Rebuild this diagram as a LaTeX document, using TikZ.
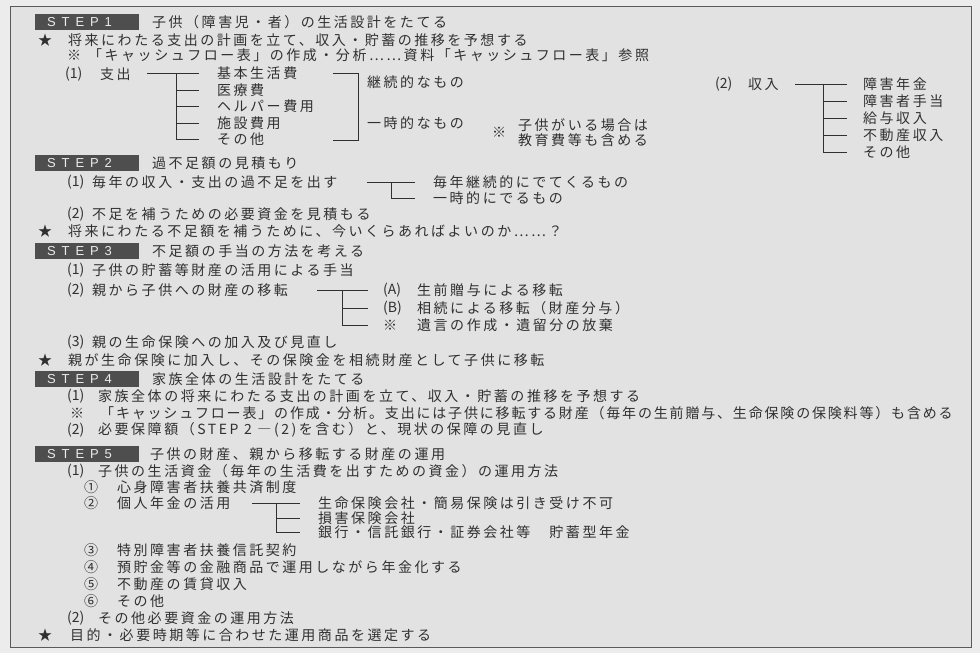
\documentclass[tikz,border=0pt]{standalone}
\usepackage{fontspec}
\setmainfont{Noto Sans CJK JP}[LetterSpace=18]
\newfontfamily\tightfont{Noto Sans CJK JP}[LetterSpace=13]
\newfontfamily\numfont{Noto Sans CJK JP}
\newfontfamily\stepfont{Liberation Sans}[LetterSpace=45]
\definecolor{ink}{RGB}{48,48,48}
\definecolor{paper}{RGB}{226,226,226}
\definecolor{margin}{RGB}{236,236,236}
\definecolor{boxgray}{RGB}{78,78,78}

\begin{document}
\begin{tikzpicture}[x=1pt, y=-1pt,
  txt/.style = {anchor=west, inner sep=0pt, text=ink, font=\fontsize{14}{14}\selectfont},
  num/.style = {txt, font=\numfont\fontsize{14}{14}\selectfont},
  stepbox/.style = {anchor=west, fill=boxgray, text=white!92!black, font=\stepfont\fontsize{13}{13}\selectfont, inner xsep=12pt, inner ysep=0pt, minimum height=16pt, text width=80pt, align=left},
  branch/.style = {draw=ink, line width=0.7pt}]
\useasboundingbox (0,0) rectangle (980,653);
\fill[margin] (0,0) rectangle (980,653);
\draw[ink!80, line width=1pt, fill=paper] (10,6) rectangle (971,647);

% STEP 1
\node[stepbox] (step1) at (35,22) {STEP1};
\node[txt] (head1) at (152,22) {子供（障害児・者）の生活設計をたてる};
\node[txt] (star1) at (38,40) {★};
\node[txt] (plan1) at (68,40) {将来にわたる支出の計画を立て、収入・貯蓄の推移を予想する};
\node[txt] (note1) at (67,55) {※};
\node[txt] (cash1) at (88,55) {「キャッシュフロー表」の作成・分析……資料「キャッシュフロー表」参照};
\node[num] (num11) at (65,74) {(1)};
\node[txt] (shishutsu) at (100,74) {支出};
\node[txt] (kihon) at (217,73) {基本生活費};
\node[txt] (iryo) at (217,90) {医療費};
\node[txt] (helper) at (217,106) {ヘルパー費用};
\node[txt] (shisetsu) at (217,123) {施設費用};
\node[txt] (sonota1) at (217,139) {その他};
\node[txt] (keizoku) at (367,82) {継続的なもの};
\node[txt] (ichiji1) at (367,123) {一時的なもの};
\node[txt] (note2) at (492,132) {※};
\node[txt] (kodomo) at (518,125) {子供がいる場合は};
\node[txt] (kyoiku) at (518,140) {教育費等も含める};
\node[num] (num12) at (715,84) {(2)};
\node[txt] (shunyu) at (748,84) {収入};
\node[txt] (nenkin) at (863,84) {障害年金};
\node[txt] (teate) at (863,101) {障害者手当};
\node[txt] (kyuyo) at (863,118) {給与収入};
\node[txt] (fudosan) at (863,135) {不動産収入};
\node[txt] (sonota2) at (863,152) {その他};

% STEP 2
\node[stepbox] (step2) at (35,163) {STEP2};
\node[txt] (head2) at (152,163) {過不足額の見積もり};
\node[num] (num21) at (67,182) {(1)};
\node[txt] (kabusoku) at (92,182) {毎年の収入・支出の過不足を出す};
\node[txt] (maitoshi) at (433,182) {毎年継続的にでてくるもの};
\node[txt] (ichiji2) at (433,198) {一時的にでるもの};
\node[num] (num22) at (67,214) {(2)};
\node[txt] (hitsuyo) at (92,214) {不足を補うための必要資金を見積もる};
\node[txt] (star2) at (38,231) {★};
\node[txt] (ikura) at (68,231) {将来にわたる不足額を補うために、今いくらあればよいのか……？};

% STEP 3
\node[stepbox] (step3) at (35,251) {STEP3};
\node[txt] (head3) at (152,251) {不足額の手当の方法を考える};
\node[num] (num31) at (67,270) {(1)};
\node[txt] (chochiku) at (92,270) {子供の貯蓄等財産の活用による手当};
\node[num] (num32) at (67,290) {(2)};
\node[txt] (iten) at (92,290) {親から子供への財産の移転};
\node[num] (markA) at (383,290) {(A)};
\node[txt] (seizen) at (417,290) {生前贈与による移転};
\node[num] (markB) at (383,308) {(B)};
\node[txt] (sozoku) at (417,308) {相続による移転（財産分与）};
\node[txt] (note3) at (383,325) {※};
\node[txt] (yuigon) at (417,325) {遺言の作成・遺留分の放棄};
\node[num] (num33) at (67,342) {(3)};
\node[txt] (hoken) at (92,342) {親の生命保険への加入及び見直し};
\node[txt] (star3) at (38,360) {★};
\node[txt] (hokenkin) at (68,360) {親が生命保険に加入し、その保険金を相続財産として子供に移転};

% STEP 4
\node[stepbox] (step4) at (35,379) {STEP4};
\node[txt] (head4) at (152,379) {家族全体の生活設計をたてる};
\node[num] (num41) at (67,396) {(1)};
\node[txt] (kazoku) at (98,396) {家族全体の将来にわたる支出の計画を立て、収入・貯蓄の推移を予想する};
\node[txt] (note4) at (70,413) {※};
\node[txt, font=\tightfont\fontsize{14}{14}\selectfont] (cash4) at (100,413) {「キャッシュフロー表」の作成・分析。支出には子供に移転する財産（毎年の生前贈与、生命保険の保険料等）も含める};
\node[num] (num42) at (67,430) {(2)};
\node[txt] (hosho) at (98,430) {必要保障額（STEP 2 ―(2)を含む）と、現状の保障の見直し};

% STEP 5
\node[stepbox] (step5) at (35,454) {STEP5};
\node[txt] (head5) at (150,454) {子供の財産、親から移転する財産の運用};
\node[num] (num51) at (67,471) {(1)};
\node[txt] (seikatsu) at (98,471) {子供の生活資金（毎年の生活費を出すための資金）の運用方法};
\node[txt] (c1) at (84,487) {①};
\node[txt] (kyosai) at (117,487) {心身障害者扶養共済制度};
\node[txt] (c2) at (84,503) {②};
\node[txt] (kojin) at (117,503) {個人年金の活用};
\node[txt] (seimei) at (318,503) {生命保険会社・簡易保険は引き受け不可};
\node[txt] (songai) at (318,518) {損害保険会社};
\node[txt] (ginko) at (318,532) {銀行・信託銀行・証券会社等　貯蓄型年金};
\node[txt] (c3) at (84,550) {③};
\node[txt] (shintaku) at (117,550) {特別障害者扶養信託契約};
\node[txt] (c4) at (84,567) {④};
\node[txt] (yochokin) at (117,567) {預貯金等の金融商品で運用しながら年金化する};
\node[txt] (c5) at (84,584) {⑤};
\node[txt] (chintai) at (117,584) {不動産の賃貸収入};
\node[txt] (c6) at (84,601) {⑥};
\node[txt] (sonota3) at (117,601) {その他};
\node[num] (num52) at (67,618) {(2)};
\node[txt] (unyo) at (98,618) {その他必要資金の運用方法};
\node[txt] (star5) at (38,635) {★};
\node[txt] (sentei) at (70,635) {目的・必要時期等に合わせた運用商品を選定する};

\begin{scope}[branch]
\coordinate (fork1) at ([xshift=-41pt]kihon.west);
\draw ([xshift=-70pt]kihon.west) -- ([xshift=-18pt]kihon.west);
\foreach \n in {iryo,helper,shisetsu,sonota1}
  \draw (fork1) |- ([xshift=-18pt]\n.west);
\draw (333,73) -| (358,140) -- (333,140);

\coordinate (fork2) at ([xshift=-40pt]nenkin.west);
\draw ([xshift=-68pt]nenkin.west) -- ([xshift=-16pt]nenkin.west);
\foreach \n in {teate,kyuyo,fudosan,sonota2}
  \draw (fork2) |- ([xshift=-16pt]\n.west);

\coordinate (fork3) at ([xshift=-42pt]maitoshi.west);
\draw ([xshift=-66pt]maitoshi.west) -- ([xshift=-18pt]maitoshi.west);
\draw (fork3) |- ([xshift=-18pt]ichiji2.west);

\coordinate (fork4) at ([xshift=-41pt]markA.west);
\draw ([xshift=-66pt]markA.west) -- ([xshift=-15pt]markA.west);
\foreach \n in {markB,note3}
  \draw (fork4) |- ([xshift=-15pt]\n.west);

\coordinate (fork5) at ([xshift=-42pt]seimei.west);
\draw ([xshift=-66pt]seimei.west) -- ([xshift=-18pt]seimei.west);
\foreach \n in {songai,ginko}
  \draw (fork5) |- ([xshift=-18pt]\n.west);
\end{scope}
\end{tikzpicture}
\end{document}
